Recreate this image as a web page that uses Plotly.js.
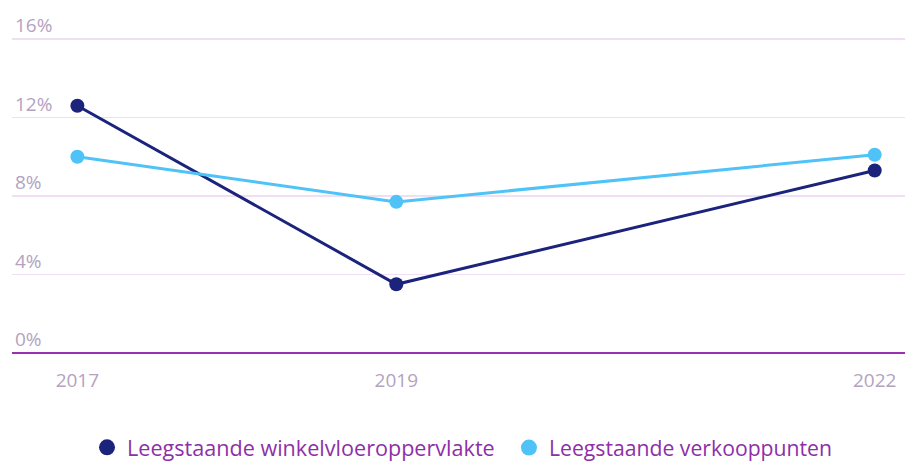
<!DOCTYPE html>
<html>
<head>
<meta charset="utf-8">
<script src="https://cdn.plot.ly/plotly-3.0.1.min.js"></script>
<style>html,body{margin:0;padding:0;background:#fff;}#chart{width:907px;height:461px;}</style>
</head>
<body>
<div id="chart"></div>
<script>
const years = [2017, 2019, 2022];
const winkelvloeroppervlakte = [12.6, 3.5, 9.3];
const verkooppunten = [10.0, 7.7, 10.1];
const seriesNames = ['Leegstaande winkelvloeroppervlakte', 'Leegstaande verkooppunten'];
const yTicks = [0, 4, 8, 12, 16];
const yTickLabels = ['0%', '4%', '8%', '12%', '16%'];

const colors = ['#1b237c', '#4fc3f7'];
const seriesValues = [winkelvloeroppervlakte, verkooppunten];
const legendIds = ['legend', 'legend2'];

const traces = [];
seriesValues.forEach((vals, i) => {
  traces.push({
    x: years, y: vals, type: 'scatter', mode: 'lines+markers',
    name: seriesNames[i], showlegend: false,
    line: {color: colors[i], width: 3},
    marker: {color: colors[i], size: 14}
  });
});
seriesValues.forEach((vals, i) => {
  traces.push({
    x: [null], y: [null], type: 'scatter', mode: 'markers',
    name: seriesNames[i], showlegend: true, legend: legendIds[i],
    marker: {color: colors[i], size: 20}
  });
});

const legendBase = {
  orientation: 'h', xanchor: 'left', y: -0.30, yanchor: 'middle',
  font: {size: 21.6, color: '#8e2fa8'}, itemwidth: 20, itemclick: false,
  bgcolor: 'rgba(0,0,0,0)'
};

const layout = {
  width: 907, height: 461,
  margin: {l: 12, r: 2, t: 37, b: 108, autoexpand: false},
  paper_bgcolor: '#fff', plot_bgcolor: '#fff',
  font: {family: '"Open Sans", sans-serif', size: 19, color: '#b3a3bf'},
  showlegend: true,
  legend: Object.assign({}, legendBase, {x: 0.084}),
  legend2: Object.assign({}, legendBase, {x: 0.5565, font: {size: 21.2, color: '#8e2fa8'}}),
  xaxis: {
    range: [2016.59, 2022.19], tickvals: years, ticktext: years.map(String),
    showgrid: false, zeroline: false, showline: false,
    ticks: 'outside', ticklen: 10, tickcolor: 'rgba(0,0,0,0)',
    tickfont: {size: 19, color: '#b3a3bf'}, fixedrange: true
  },
  yaxis: {
    range: [0, 16.1], tickvals: yTicks, ticktext: yTickLabels,
    ticklabelposition: 'inside top', ticklabeloverflow: 'allow',
    showgrid: true, gridcolor: '#f0dff4', gridwidth: 1.5,
    zeroline: true, zerolinecolor: '#9a2fb0', zerolinewidth: 1.5,
    showline: false, ticks: '',
    tickfont: {size: 19, color: '#b3a3bf'}, fixedrange: true
  }
};

Plotly.newPlot('chart', traces, layout, {displayModeBar: false, staticPlot: true});
</script>
</body>
</html>
